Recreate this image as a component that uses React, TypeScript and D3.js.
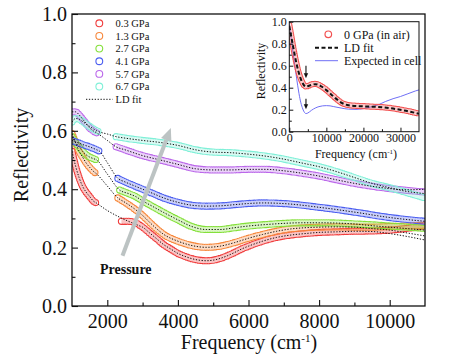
import React, { useEffect, useRef } from "react";
import * as d3 from "d3";

type Pt = [number, number];

const FONT = '"Liberation Serif", "Times New Roman", Times, serif';

// legend labels and colours
const pressures = ["0.3 GPa", "1.3 GPa", "2.7 GPa", "4.1 GPa", "5.7 GPa", "6.7 GPa"];
const colors = ["#f03c3c", "#f7883c", "#84e03a", "#4b5ef0", "#bb68ea", "#80f0d8"];

// measured reflectivity: low-frequency window [freq cm-1, R]
const low03: Pt[] = [[1000, 0.53], [1100, 0.48], [1200, 0.44], [1300, 0.41], [1400, 0.39], [1500, 0.375], [1600, 0.36], [1700, 0.352]];
const low13: Pt[] = [[1000, 0.59], [1100, 0.56], [1200, 0.53], [1300, 0.51], [1400, 0.49], [1500, 0.475], [1600, 0.462], [1700, 0.452]];
const low27: Pt[] = [[1000, 0.58], [1100, 0.56], [1200, 0.545], [1300, 0.53], [1400, 0.518], [1500, 0.51], [1600, 0.505], [1700, 0.5]];
const low41: Pt[] = [[1000, 0.567], [1100, 0.562], [1200, 0.558], [1300, 0.553], [1400, 0.549], [1500, 0.545], [1600, 0.54], [1700, 0.535], [1780, 0.53]];
const low57: Pt[] = [[1000, 0.665], [1100, 0.665], [1200, 0.655], [1300, 0.64], [1400, 0.625], [1500, 0.61], [1600, 0.6], [1700, 0.593]];
const low67: Pt[] = [[1000, 0.63], [1100, 0.642], [1200, 0.64], [1300, 0.632], [1400, 0.623], [1500, 0.615], [1600, 0.607], [1700, 0.6], [1780, 0.596]];

// measured reflectivity: mid-infrared window
const high03: Pt[] = [[2400, 0.29], [2600, 0.29], [2800, 0.285], [3000, 0.27], [3200, 0.25], [3400, 0.23], [3600, 0.21], [3800, 0.195], [4000, 0.18], [4200, 0.17], [4400, 0.162], [4600, 0.157], [4800, 0.155], [5000, 0.157], [5200, 0.163], [5400, 0.172], [5600, 0.183], [5800, 0.195], [6000, 0.205], [6400, 0.222], [6800, 0.235], [7200, 0.243], [7600, 0.248], [8000, 0.252], [8500, 0.254], [9000, 0.256], [9500, 0.257], [10000, 0.26], [10500, 0.266], [11000, 0.275]];
const high13: Pt[] = [[2300, 0.37], [2500, 0.355], [2800, 0.33], [3000, 0.31], [3300, 0.275], [3600, 0.245], [4000, 0.222], [4400, 0.207], [4800, 0.201], [5200, 0.205], [5600, 0.217], [6000, 0.232], [6400, 0.245], [6800, 0.256], [7200, 0.264], [7600, 0.268], [8000, 0.27], [8500, 0.271], [9000, 0.27], [9500, 0.27], [10000, 0.272], [10500, 0.274], [11000, 0.277]];
const high27: Pt[] = [[2350, 0.397], [2600, 0.385], [2800, 0.375], [3000, 0.36], [3300, 0.34], [3600, 0.32], [4000, 0.295], [4400, 0.272], [4800, 0.262], [5200, 0.262], [5600, 0.268], [6000, 0.274], [6500, 0.279], [7000, 0.283], [7500, 0.285], [8000, 0.285], [8500, 0.284], [9000, 0.281], [9500, 0.278], [10000, 0.274], [10500, 0.27], [11000, 0.266]];
const high41: Pt[] = [[2300, 0.437], [2500, 0.425], [2800, 0.41], [3000, 0.4], [3300, 0.385], [3600, 0.37], [4000, 0.355], [4400, 0.345], [4800, 0.342], [5200, 0.343], [5600, 0.347], [6000, 0.351], [6400, 0.353], [6800, 0.352], [7200, 0.349], [7600, 0.344], [8000, 0.338], [8400, 0.332], [8800, 0.325], [9200, 0.318], [9600, 0.31], [10000, 0.303], [10500, 0.296], [11000, 0.29]];
const high57: Pt[] = [[2250, 0.545], [2500, 0.535], [3000, 0.515], [3500, 0.5], [4000, 0.485], [4500, 0.47], [5000, 0.466], [5500, 0.466], [6000, 0.468], [6500, 0.468], [7000, 0.463], [7500, 0.455], [8000, 0.445], [8500, 0.432], [9000, 0.42], [9500, 0.41], [10000, 0.402], [10500, 0.396], [11000, 0.39]];
const high67: Pt[] = [[2250, 0.58], [2500, 0.575], [3000, 0.567], [3500, 0.56], [4000, 0.55], [4500, 0.535], [5000, 0.527], [5500, 0.525], [6000, 0.52], [6500, 0.513], [7000, 0.503], [7500, 0.49], [8000, 0.477], [8500, 0.46], [9000, 0.44], [9500, 0.42], [10000, 0.405], [10500, 0.388], [11000, 0.37]];

// LD fit: points across the gap and where the fit leaves the data at high freq
const bridge03: Pt[] = [[2000, 0.327], [2300, 0.307], [2600, 0.29], [2900, 0.275]];
const bridge13: Pt[] = [[2000, 0.411]];
const bridge27: Pt[] = [[2000, 0.452]];
const bridge41: Pt[] = [[2000, 0.491]];
const bridge57: Pt[] = [[2000, 0.567]];
const bridge67: Pt[] = [[2000, 0.589]];
const tail03: Pt[] = [[9500, 0.255], [10000, 0.248], [10500, 0.238], [11000, 0.226]];
const tail13: Pt[] = [[9500, 0.265], [10000, 0.26], [10500, 0.25], [11000, 0.24]];
const tail27: Pt[] = [[9500, 0.275], [10000, 0.27], [10500, 0.265], [11000, 0.26]];
const tail41: Pt[] = [];
const tail57: Pt[] = [[10500, 0.398], [11000, 0.4]];
const tail67: Pt[] = [[10500, 0.392], [11000, 0.385]];

const lows = [low03, low13, low27, low41, low57, low67];
const highs = [high03, high13, high27, high41, high57, high67];
const bridges = [bridge03, bridge13, bridge27, bridge41, bridge57, bridge67];
const tails = [tail03, tail13, tail27, tail41, tail57, tail67];

// inset: 0 GPa in air, LD fit, expected in cell
const airData: Pt[] = [[0, 0.97], [500, 0.88], [1000, 0.78], [1500, 0.69], [2000, 0.61], [2500, 0.54], [3000, 0.49], [3500, 0.45], [4000, 0.42], [4500, 0.412], [5000, 0.415], [6000, 0.43], [7000, 0.435], [8000, 0.425], [9000, 0.405], [10000, 0.38], [11000, 0.35], [12000, 0.32], [13000, 0.29], [14000, 0.265], [15000, 0.25], [16000, 0.242], [18000, 0.235], [20000, 0.232], [22000, 0.228], [24000, 0.225], [26000, 0.22], [28000, 0.212], [30000, 0.2], [32000, 0.188], [34000, 0.172], [35000, 0.165]];
const airFit: Pt[] = [[0, 0.96], [1000, 0.78], [2000, 0.61], [3000, 0.49], [4000, 0.42], [4500, 0.41], [5500, 0.42], [7000, 0.432], [8500, 0.415], [10000, 0.378], [12000, 0.318], [14000, 0.265], [16000, 0.24], [19000, 0.232], [22000, 0.228], [25000, 0.223], [28000, 0.21], [31000, 0.193], [35000, 0.163]];
const cellCalc: Pt[] = [[0, 0.97], [500, 0.85], [1000, 0.72], [1500, 0.6], [2000, 0.48], [2500, 0.37], [3000, 0.28], [3500, 0.22], [4000, 0.18], [4500, 0.165], [5000, 0.17], [6000, 0.195], [7000, 0.215], [8000, 0.228], [9000, 0.235], [10000, 0.237], [11000, 0.235], [12000, 0.228], [14000, 0.215], [16000, 0.205], [18000, 0.203], [20000, 0.21], [22000, 0.225], [24000, 0.245], [26000, 0.275], [28000, 0.3], [30000, 0.32], [32000, 0.345], [34000, 0.37], [35000, 0.38]];
const dipFreq = 4500;

const xTicks = [2000, 4000, 6000, 8000, 10000];
const yTicks = [0, 0.2, 0.4, 0.6, 0.8, 1.0];
const xiTicks = [0, 10000, 20000, 30000];
const yiTicks = [0, 0.2, 0.4, 0.6, 0.8, 1.0];

export default function App() {
    const svgRef = useRef<SVGSVGElement>(null);

    useEffect(() => {
        const W = 464;
        const H = 364;
        const svg = d3.select(svgRef.current);
        svg.selectAll("*").remove();

        const x = d3.scaleLinear().domain([1000, 11000]).range([72, 425]);
        const y = d3.scaleLinear().domain([0, 1]).range([306, 14]);
        const line = d3.line<Pt>().x((d) => x(d[0])).y((d) => y(d[1])).curve(d3.curveMonotoneX);

        const defs = svg.append("defs");
        defs.append("clipPath").attr("id", "plotclip")
            .append("rect").attr("x", 72).attr("y", 14).attr("width", 353).attr("height", 292);

        // draws a chain of open circles along a path (dense markers)
        const ringBand = (parent: any, id: string, ds: string[], color: string, outer: number, inner: number, gap: number) => {
            const mask = defs.append("mask").attr("id", id).attr("maskUnits", "userSpaceOnUse")
                .attr("x", 0).attr("y", 0).attr("width", W).attr("height", H);
            mask.append("rect").attr("width", W).attr("height", H).attr("fill", "white");
            ds.forEach((d) => {
                mask.append("path").attr("d", d).attr("fill", "none").attr("stroke", "black")
                    .attr("stroke-width", inner).attr("stroke-linecap", "round").attr("stroke-dasharray", `0 ${gap}`);
            });
            ds.forEach((d) => {
                parent.append("path").attr("d", d).attr("fill", "none").attr("stroke", color)
                    .attr("stroke-opacity", 0.3).attr("stroke-width", inner);
            });
            const g = parent.append("g").attr("mask", `url(#${id})`);
            ds.forEach((d) => {
                g.append("path").attr("d", d).attr("fill", "none").attr("stroke", color)
                    .attr("stroke-width", outer).attr("stroke-linecap", "round").attr("stroke-dasharray", `0 ${gap}`);
            });
        };

        const plot = svg.append("g").attr("clip-path", "url(#plotclip)");

        // measured data
        lows.forEach((lo, i) => {
            ringBand(plot, `ring${i}`, [line(lo) as string, line(highs[i]) as string], colors[i], 7.2, 5.0, 2.4);
        });

        // LD fits
        lows.forEach((lo, i) => {
            const br = bridges[i];
            const tl = tails[i];
            const bEnd = br[br.length - 1][0];
            const tStart = tl.length ? tl[0][0] : Infinity;
            const fit = [...lo, ...br, ...highs[i].filter((d) => d[0] > bEnd && d[0] < tStart), ...tl];
            plot.append("path").attr("d", line(fit)).attr("fill", "none").attr("stroke", "#111")
                .attr("stroke-width", 1).attr("stroke-dasharray", "1.3 1.6");
        });

        // pressure arrow
        const ax0 = x(2430), ay0 = y(0.172), ax1 = x(3800), ay1 = y(0.61);
        const ang = Math.atan2(ay1 - ay0, ax1 - ax0);
        const hl = 13, hw = 5.5;
        const bx = ax1 - hl * Math.cos(ang), by = ay1 - hl * Math.sin(ang);
        plot.append("line").attr("x1", ax0).attr("y1", ay0).attr("x2", bx).attr("y2", by)
            .attr("stroke", "#bcc3c3").attr("stroke-width", 4);
        plot.append("path")
            .attr("d", `M${ax1},${ay1}L${bx + hw * Math.sin(ang)},${by - hw * Math.cos(ang)}L${bx - hw * Math.sin(ang)},${by + hw * Math.cos(ang)}Z`)
            .attr("fill", "#bcc3c3");
        svg.append("text").attr("x", 100).attr("y", 273.5).style("font-size", "14px").style("font-weight", "bold")
            .attr("fill", "#111").text("Pressure");

        // axes (inward ticks)
        const xAxis = svg.append("g").attr("transform", "translate(0,306)")
            .call(d3.axisBottom(x).tickValues(xTicks).tickSizeInner(-6).tickSizeOuter(0).tickPadding(8).tickFormat(d3.format("d")));
        const xMinor = svg.append("g").attr("transform", "translate(0,306)")
            .call(d3.axisBottom(x).tickValues([3000, 5000, 7000, 9000]).tickSizeInner(-3.5).tickSizeOuter(0).tickFormat(() => ""));
        const yAxis = svg.append("g").attr("transform", "translate(72,0)")
            .call(d3.axisLeft(y).tickValues(yTicks).tickSizeInner(-6).tickSizeOuter(0).tickPadding(5).tickFormat(d3.format(".1f")));
        const yMinor = svg.append("g").attr("transform", "translate(72,0)")
            .call(d3.axisLeft(y).tickValues([0.1, 0.3, 0.5, 0.7, 0.9]).tickSizeInner(-3.5).tickSizeOuter(0).tickFormat(() => ""));
        [xAxis, xMinor, yAxis, yMinor].forEach((g) => {
            g.attr("font-family", null).attr("font-size", null);
            g.select(".domain").remove();
            g.selectAll("line").attr("stroke", "#111").attr("stroke-width", 1.1);
            g.selectAll("text").style("font-size", "20px").attr("fill", "#111");
        });

        svg.append("rect").attr("x", 72).attr("y", 14).attr("width", 353).attr("height", 292)
            .attr("fill", "none").attr("stroke", "#111").attr("stroke-width", 1.3);

        // axis titles
        svg.append("text").attr("transform", "translate(28,155) rotate(-90)").attr("text-anchor", "middle")
            .style("font-size", "20px").attr("fill", "#111").text("Reflectivity");
        const xt = svg.append("text").attr("x", 249).attr("y", 349).attr("text-anchor", "middle")
            .style("font-size", "20px").attr("fill", "#111");
        xt.append("tspan").text("Frequency (cm");
        xt.append("tspan").style("font-size", "11px").attr("dy", -7.5).text("-1");
        xt.append("tspan").attr("dy", 7.5).text(")");

        // main legend
        const leg = svg.append("g");
        pressures.forEach((p, i) => {
            const ly = 23.3 + i * 12.65;
            leg.append("circle").attr("cx", 99.3).attr("cy", ly).attr("r", 3.4).attr("fill", "none")
                .attr("stroke", colors[i]).attr("stroke-width", 1.1);
            leg.append("text").attr("x", 115.5).attr("y", ly).attr("dy", "0.35em").style("font-size", "10.5px")
                .attr("fill", "#111").text(p);
        });
        leg.append("line").attr("x1", 86).attr("x2", 112.5).attr("y1", 99.3).attr("y2", 99.3)
            .attr("stroke", "#111").attr("stroke-width", 1).attr("stroke-dasharray", "1.3 1.6");
        leg.append("text").attr("x", 115.5).attr("y", 99.3).attr("dy", "0.35em").style("font-size", "10.5px")
            .attr("fill", "#111").text("LD fit");

        // ---------- inset ----------
        const xi = d3.scaleLinear().domain([0, 35000]).range([289.3, 419]);
        const yi = d3.scaleLinear().domain([0, 1]).range([131.7, 21.7]);
        const lineI = d3.line<Pt>().x((d) => xi(d[0])).y((d) => yi(d[1])).curve(d3.curveMonotoneX);
        defs.append("clipPath").attr("id", "insetclip")
            .append("rect").attr("x", 289.3).attr("y", 21.7).attr("width", 129.7).attr("height", 110);
        const inset = svg.append("g").attr("clip-path", "url(#insetclip)");

        inset.append("path").attr("d", lineI(cellCalc)).attr("fill", "none").attr("stroke", "#6f6ff5").attr("stroke-width", 1);
        ringBand(inset, "ringair", [lineI(airData) as string], "#f25050", 6.2, 4.2, 2.0);
        inset.append("path").attr("d", lineI(airFit)).attr("fill", "none").attr("stroke", "#111")
            .attr("stroke-width", 2).attr("stroke-dasharray", "4 2.5");

        // arrows marking the dip
        const arrow = (v0: number, v1: number) => {
            const px = xi(dipFreq);
            svg.append("line").attr("x1", px).attr("x2", px).attr("y1", yi(v0)).attr("y2", yi(v1) - 4)
                .attr("stroke", "#111").attr("stroke-width", 1.1);
            svg.append("path").attr("d", `M${px},${yi(v1)}L${px - 2.2},${yi(v1) - 5}L${px + 2.2},${yi(v1) - 5}Z`).attr("fill", "#111");
        };
        arrow(0.6, 0.485);
        arrow(0.3, 0.205);

        const xiAxis = svg.append("g").attr("transform", "translate(0,131.7)")
            .call(d3.axisBottom(xi).tickValues(xiTicks).tickSizeInner(-4).tickSizeOuter(0).tickPadding(1.5).tickFormat(d3.format("d")));
        const xiMinor = svg.append("g").attr("transform", "translate(0,131.7)")
            .call(d3.axisBottom(xi).tickValues([5000, 15000, 25000]).tickSizeInner(-2.5).tickSizeOuter(0).tickFormat(() => ""));
        const yiAxis = svg.append("g").attr("transform", "translate(289.3,0)")
            .call(d3.axisLeft(yi).tickValues(yiTicks).tickSizeInner(-4).tickSizeOuter(0).tickPadding(2.5).tickFormat(d3.format(".1f")));
        const yiMinor = svg.append("g").attr("transform", "translate(289.3,0)")
            .call(d3.axisLeft(yi).tickValues([0.1, 0.3, 0.5, 0.7, 0.9]).tickSizeInner(-2.5).tickSizeOuter(0).tickFormat(() => ""));
        [xiAxis, xiMinor, yiAxis, yiMinor].forEach((g) => {
            g.attr("font-family", null).attr("font-size", null);
            g.select(".domain").remove();
            g.selectAll("line").attr("stroke", "#111").attr("stroke-width", 1);
            g.selectAll("text").style("font-size", "12px").attr("fill", "#111");
        });
        svg.append("rect").attr("x", 289.3).attr("y", 21.7).attr("width", 129.7).attr("height", 110)
            .attr("fill", "none").attr("stroke", "#111").attr("stroke-width", 1);

        svg.append("text").attr("transform", "translate(265,71) rotate(-90)").attr("text-anchor", "middle")
            .style("font-size", "12px").attr("fill", "#111").text("Reflectivity");
        const xit = svg.append("text").attr("x", 356).attr("y", 157.5).attr("text-anchor", "middle")
            .style("font-size", "12px").attr("fill", "#111");
        xit.append("tspan").text("Frequency (cm");
        xit.append("tspan").style("font-size", "7px").attr("dy", -4).text("-1");
        xit.append("tspan").attr("dy", 4).text(")");

        // inset legend
        svg.append("circle").attr("cx", 328.3).attr("cy", 34.3).attr("r", 3.3).attr("fill", "none")
            .attr("stroke", "#f25050").attr("stroke-width", 1.2);
        svg.append("line").attr("x1", 315).attr("x2", 338).attr("y1", 47.7).attr("y2", 47.7)
            .attr("stroke", "#111").attr("stroke-width", 2).attr("stroke-dasharray", "4 2.5");
        svg.append("line").attr("x1", 315).attr("x2", 338).attr("y1", 60.7).attr("y2", 60.7)
            .attr("stroke", "#6f6ff5").attr("stroke-width", 1);
        ["0 GPa (in air)", "LD fit", "Expected in cell"].forEach((t, i) => {
            svg.append("text").attr("x", 344).attr("y", 34.3 + i * 13.2).attr("dy", "0.35em")
                .style("font-size", "12px").attr("fill", "#111").text(t);
        });
    }, []);

    return (
        <svg
            ref={svgRef}
            width={464}
            height={364}
            style={{ position: "absolute", left: 0, top: 0, background: "#fff", fontFamily: FONT }}
        ></svg>
    );
}
